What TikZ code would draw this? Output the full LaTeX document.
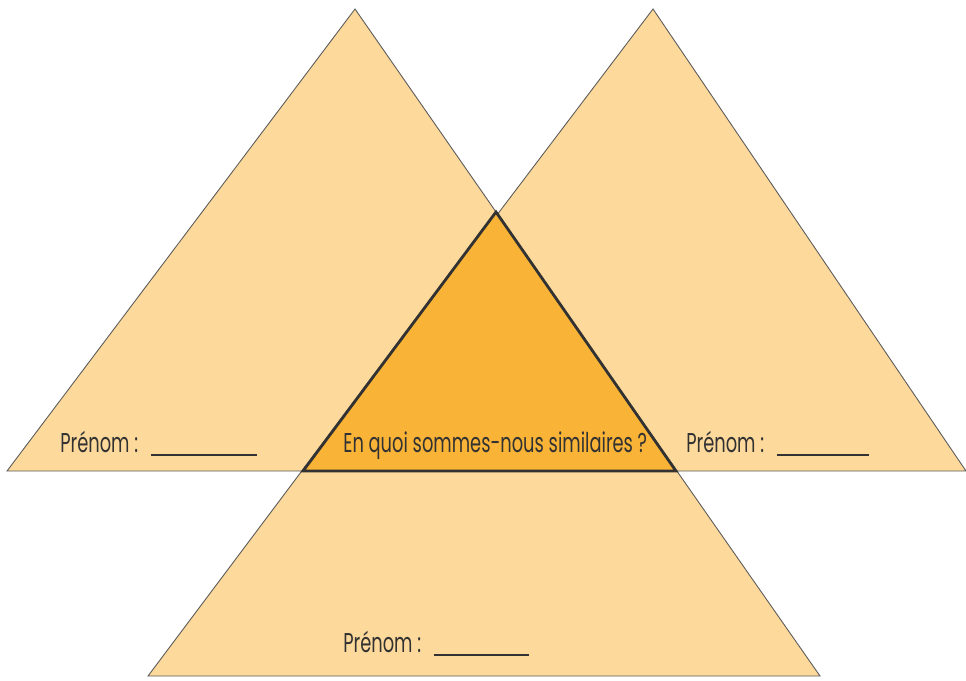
\documentclass[tikz,border=0pt]{standalone}
\usepackage{fontspec}
\setmainfont[FakeStretch=0.655]{Poppins}
\definecolor{peche}{RGB}{253,217,155}
\definecolor{abricot}{RGB}{249,180,55}
\definecolor{trait}{RGB}{90,90,90}
\definecolor{encre}{RGB}{50,50,50}
\newcommand{\blanc}[1]{\hspace{0.12cm}\rule[-2pt]{#1}{0.8pt}}

\begin{document}
\begin{tikzpicture}[x=0.02cm, y=-0.02cm,
	tri/.style={fill=peche, draw=trait, line width=0.5pt},
	centre/.style={fill=abricot, draw=encre, line width=1.6pt, line join=miter},
	label/.style={anchor=base west, inner sep=0pt, text=encre, font=\fontsize{15.5}{17}\selectfont}]
	\useasboundingbox (0,0) rectangle (966,680);
	% sommets
	\coordinate (h) at (496,212);
	\coordinate (g) at (303,471);
	\coordinate (d) at (676,471);
	
	\filldraw[tri] (7,471) -- (355,9) -- (d) -- cycle;
	\filldraw[tri] (g) -- (653,9) -- (966,471) -- cycle;
	\filldraw[tri] (h) -- (148,676) -- (820,676) -- cycle;
	\filldraw[centre] (h) -- (g) -- (d) -- cycle;
	
	\node[label] (gauche) at (60,452) {Prénom : \blanc{106\dimexpr0.02cm\relax}};
	\node[label] (milieu) at (343,452) {En quoi sommes-nous similaires\,?};
	\node[label] (droite) at (686,452) {Prénom : \blanc{92\dimexpr0.02cm\relax}};
	\node[label] (bas) at (343,652) {Prénom : \blanc{95\dimexpr0.02cm\relax}};
\end{tikzpicture}
\end{document}
